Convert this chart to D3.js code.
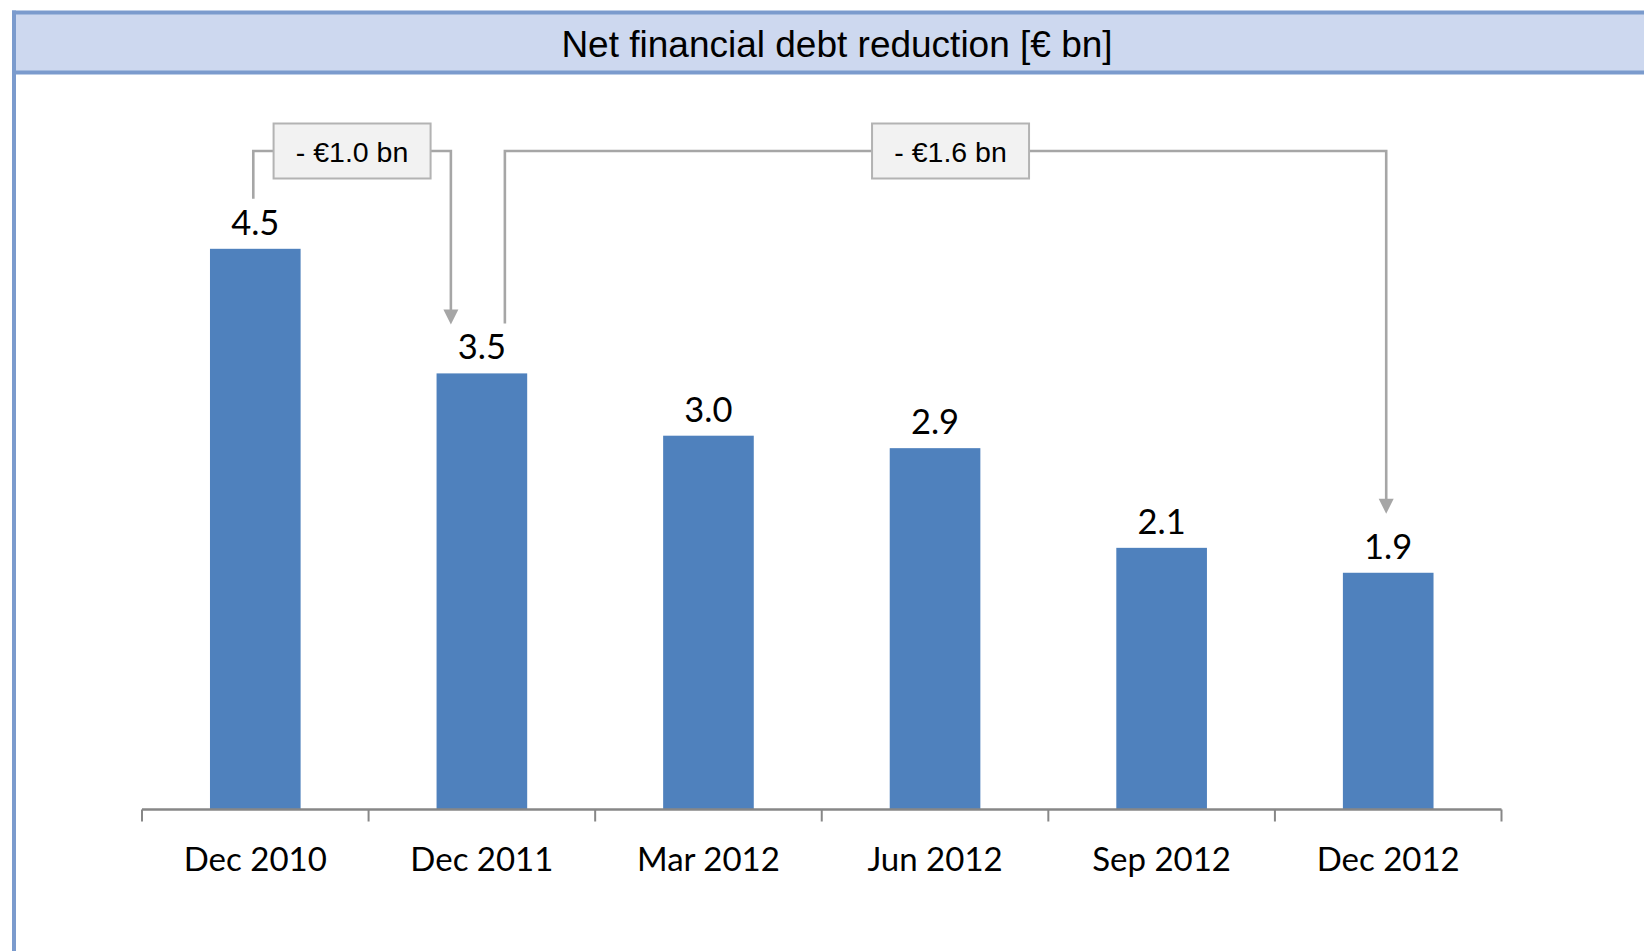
<!DOCTYPE html>
<html>
<head>
<meta charset="utf-8">
<script src="https://cdn.jsdelivr.net/npm/d3@7"></script>
<style>
  html, body { margin: 0; padding: 0; background: #ffffff; }
  svg { display: block; }
</style>
</head>
<body>
<svg id="chart" width="1644" height="951"></svg>
<script>
// Net financial debt at each reporting date, € bn
const categories = ["Dec 2010", "Dec 2011", "Mar 2012", "Jun 2012", "Sep 2012", "Dec 2012"];
const values = [4.5, 3.5, 3.0, 2.9, 2.1, 1.9];
const titleText = "Net financial debt reduction [€ bn]";

// Reduction brackets: from one date to another, with their labels
const bracketFrom = [0, 1];
const bracketTo = [1, 5];
const bracketLabels = ["- €1.0 bn", "- €1.6 bn"];

const W = 1644, H = 951;
const svg = d3.select("#chart");

const axisY = 809.5;
const x = d3.scaleBand()
  .domain(categories)
  .range([142, 1501.5])
  .paddingInner(0.6)
  .paddingOuter(0.3);
const y = d3.scaleLinear()
  .domain([0, 4.5])
  .range([axisY, axisY - 4.5 * 124.6]);

const cx = c => x(c) + x.bandwidth() / 2;

// Panel frame and title bar
const frame = "#7b9bcd";
svg.append("rect")
  .attr("x", 14).attr("y", 12)
  .attr("width", W + 20).attr("height", 60)
  .attr("fill", "#cdd8ef");
svg.append("line")
  .attr("x1", 12).attr("x2", W + 10)
  .attr("y1", 12.5).attr("y2", 12.5)
  .attr("stroke", frame).attr("stroke-width", 4);
svg.append("line")
  .attr("x1", 12).attr("x2", W + 10)
  .attr("y1", 72.5).attr("y2", 72.5)
  .attr("stroke", frame).attr("stroke-width", 4);
svg.append("line")
  .attr("x1", 14).attr("x2", 14)
  .attr("y1", 10.5).attr("y2", H + 10)
  .attr("stroke", frame).attr("stroke-width", 4);

svg.append("text")
  .attr("x", 837).attr("y", 57)
  .attr("text-anchor", "middle")
  .attr("font-family", "'Liberation Sans', Arial, sans-serif")
  .attr("font-size", 37)
  .attr("fill", "#000")
  .text(titleText);

// Bars
svg.append("g").selectAll("rect")
  .data(values)
  .join("rect")
  .attr("x", (d, i) => x(categories[i]))
  .attr("y", d => y(d))
  .attr("width", x.bandwidth())
  .attr("height", d => y(0) - y(d))
  .attr("fill", "#4f81bd");

// Category axis with ticks between the bands
const axisG = svg.append("g");
axisG.append("line")
  .attr("x1", x.range()[0]).attr("x2", x.range()[1])
  .attr("y1", axisY).attr("y2", axisY)
  .attr("stroke", "#878787").attr("stroke-width", 2.6);
const bounds = d3.range(categories.length + 1)
  .map(i => x.range()[0] + i * (x.range()[1] - x.range()[0]) / categories.length);
axisG.selectAll("line.tick")
  .data(bounds)
  .join("line")
  .attr("class", "tick")
  .attr("x1", d => d).attr("x2", d => d)
  .attr("y1", axisY).attr("y2", axisY + 12)
  .attr("stroke", "#878787").attr("stroke-width", 2);

axisG.selectAll("text")
  .data(categories)
  .join("text")
  .attr("x", d => cx(d))
  .attr("y", 871)
  .attr("text-anchor", "middle")
  .attr("font-family", "Lato, 'Open Sans', sans-serif")
  .attr("font-size", 33)
  .attr("fill", "#000")
  .text(d => d);

// Value labels
svg.append("g").selectAll("text")
  .data(values)
  .join("text")
  .attr("x", (d, i) => cx(categories[i]))
  .attr("y", d => y(d) - 14)
  .attr("text-anchor", "middle")
  .attr("font-family", "Lato, 'Open Sans', sans-serif")
  .attr("font-size", 34.5)
  .attr("fill", "#000")
  .text(d => d.toFixed(1));

// Reduction brackets
const lineCol = "#a6a6a6";
const bracketY = 151;
const startOffsets = [-2, 23];   // horizontal offset of the start leg from the bar centre
const endOffsets = [-31, -2];    // horizontal offset of the arrow leg from the bar centre
const endGaps = [49, 59];        // arrow tip distance above the target bar
const boxShift = [0, 5];         // label box shift from the bracket midpoint
const boxW = 157, boxH = 55;

bracketFrom.forEach((fi, k) => {
  const ti = bracketTo[k];
  const x0 = cx(categories[fi]) + startOffsets[k];
  const x1 = cx(categories[ti]) + endOffsets[k];
  const y0 = y(values[fi]) - 50;
  const tipY = y(values[ti]) - endGaps[k];
  const mid = (x0 + x1) / 2 + boxShift[k];
  const g = svg.append("g");

  g.append("path")
    .attr("d", `M${x0},${y0} V${bracketY} H${mid - boxW / 2}`)
    .attr("fill", "none").attr("stroke", lineCol).attr("stroke-width", 2.6);
  g.append("path")
    .attr("d", `M${mid + boxW / 2},${bracketY} H${x1} V${tipY - 14}`)
    .attr("fill", "none").attr("stroke", lineCol).attr("stroke-width", 2.6);
  g.append("path")
    .attr("d", `M${x1 - 7.5},${tipY - 15} L${x1 + 7.5},${tipY - 15} L${x1},${tipY} Z`)
    .attr("fill", lineCol);

  g.append("rect")
    .attr("x", mid - boxW / 2).attr("y", bracketY - boxH / 2)
    .attr("width", boxW).attr("height", boxH)
    .attr("fill", "#f2f2f2").attr("stroke", "#b3b3b3").attr("stroke-width", 2);
  g.append("text")
    .attr("x", mid).attr("y", bracketY + 11)
    .attr("text-anchor", "middle")
    .attr("font-family", "'Liberation Sans', Arial, sans-serif")
    .attr("font-size", 28.5)
    .attr("fill", "#000")
    .text(bracketLabels[k]);
});
</script>
</body>
</html>
